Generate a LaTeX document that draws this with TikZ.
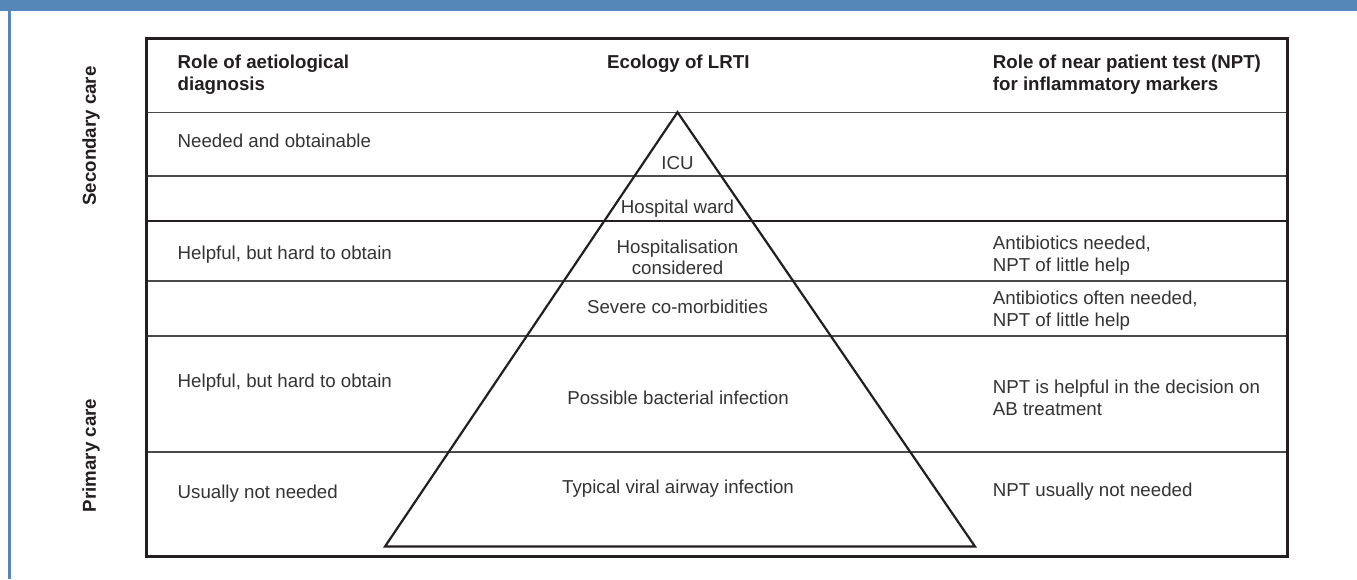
\documentclass[tikz,border=0pt]{standalone}
\usepackage{fontspec}
\setmainfont{Liberation Sans}
\definecolor{bluebar}{HTML}{5588B9}
\definecolor{dk}{HTML}{231F20}
\definecolor{gl}{HTML}{4A4A4A}
\definecolor{tx}{HTML}{333333}
\tikzset{
  txt/.style={font=\fontsize{18.7}{22}\selectfont, text=tx, inner sep=0pt, anchor=base west},
  ctxt/.style={txt, anchor=base},
  hd/.style={txt, font=\fontsize{18.7}{22}\selectfont\bfseries, text=dk},
  chd/.style={hd, anchor=base},
  side/.style={font=\fontsize{18.7}{22}\selectfont\bfseries, text=dk, inner sep=0pt, rotate=90},
  rowline/.style={draw=gl, line width=1.3pt},
  thickrow/.style={draw=dk, line width=2.2pt},
  outer/.style={draw=dk, line width=2.5pt},
  pyr/.style={draw=dk, line width=2.2pt, line join=miter}
}
\begin{document}
\begin{tikzpicture}[x=1pt,y=-1pt]
\useasboundingbox (0,0) rectangle (1357,579);
% frame
\fill[bluebar] (0,0) rectangle (1357,11);
\fill[bluebar] (8.2,11) rectangle (10.8,579);
% row separators
\coordinate (tl) at (146.7,38.3);
\coordinate (br) at (1287.7,556.5);
\foreach \yy/\nm in {112.7/a,176/b,281/d,336/e,452/f}{
  \draw[rowline] (146.7,\yy) coordinate (L\nm) -- (1287.7,\yy) coordinate (R\nm);
}
\draw[thickrow] (146.7,220.7) coordinate (Lc) -- (1287.7,220.7) coordinate (Rc);
% outer box
\draw[outer] (tl) rectangle (br);
% pyramid
\coordinate (apex) at (677.5,112.2);
\coordinate (bl) at (385,546.5);
\coordinate (brr) at (975,546.5);
\draw[pyr] (apex) -- (bl) -- (brr) -- cycle;
% side labels
\node[side] (sec) at (91,136) {Secondary care};
\node[side] (pri) at (91,455.5) {Primary care};
% headers
\node[hd] (h1a) at (177.5,68.5) {Role of aetiological};
\node[hd] (h1b) at (177.5,90.2) {diagnosis};
\node[chd] (h2) at (678.3,68.5) {Ecology of LRTI};
\node[hd] (h3a) at (992.7,68.5) {Role of near patient test (NPT)};
\node[hd] (h3b) at (992.7,90.2) {for inflammatory markers};
% left column
\node[txt] (l1) at (177.5,147.3) {Needed and obtainable};
\node[txt] (l2) at (177.5,259.9) {Helpful, but hard to obtain};
\node[txt] (l3) at (177.5,387.6) {Helpful, but hard to obtain};
\node[txt] (l4) at (177.5,498.9) {Usually not needed};
% centre column
\node[ctxt] (c1) at (677.5,169.3) {ICU};
\node[ctxt] (c2) at (677.5,213.6) {Hospital ward};
\node[ctxt] (c3a) at (677.5,253.3) {Hospitalisation};
\node[ctxt] (c3b) at (677.5,274.8) {considered};
\node[ctxt] (c4) at (677.5,313.6) {Severe co-morbidities};
\node[ctxt] (c5) at (678,404.3) {Possible bacterial infection};
\node[ctxt] (c6) at (678,493.3) {Typical viral airway infection};
% right column
\node[txt] (r1a) at (992.7,249.9) {Antibiotics needed,};
\node[txt] (r1b) at (992.7,271.6) {NPT of little help};
\node[txt] (r2a) at (992.7,304.9) {Antibiotics often needed,};
\node[txt] (r2b) at (992.7,326.6) {NPT of little help};
\node[txt] (r3a) at (992.7,393.3) {NPT is helpful in the decision on};
\node[txt] (r3b) at (992.7,415.5) {AB treatment};
\node[txt] (r4) at (992.7,496.6) {NPT usually not needed};
\end{tikzpicture}
\end{document}
